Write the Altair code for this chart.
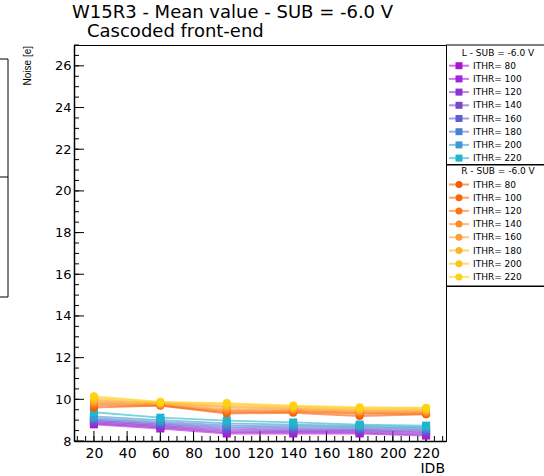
import altair as alt
import pandas as pd

# ---------------- data ----------------
IDB = [20, 60, 100, 140, 180, 220]
ITHR = [80, 100, 120, 140, 160, 180, 200, 220]

L_NOISE = {
    80:  [8.80, 8.60, 8.36, 8.36, 8.36, 8.26],
    100: [8.85, 8.67, 8.43, 8.42, 8.41, 8.32],
    120: [8.90, 8.72, 8.50, 8.48, 8.47, 8.39],
    140: [8.96, 8.78, 8.58, 8.55, 8.52, 8.45],
    160: [9.02, 8.85, 8.67, 8.62, 8.58, 8.52],
    180: [9.10, 8.92, 8.75, 8.70, 8.65, 8.59],
    200: [9.18, 9.00, 8.85, 8.78, 8.72, 8.66],
    220: [9.38, 9.12, 8.98, 8.89, 8.79, 8.74],
}
R_NOISE = {
    80:  [9.60, 9.70, 9.32, 9.35, 9.20, 9.28],
    100: [9.70, 9.70, 9.38, 9.40, 9.30, 9.30],
    120: [9.78, 9.72, 9.45, 9.45, 9.35, 9.35],
    140: [9.85, 9.76, 9.52, 9.50, 9.40, 9.40],
    160: [9.92, 9.80, 9.62, 9.55, 9.45, 9.45],
    180: [9.98, 9.82, 9.68, 9.60, 9.50, 9.50],
    200: [10.07, 9.85, 9.77, 9.66, 9.56, 9.56],
    220: [10.15, 9.88, 9.82, 9.70, 9.62, 9.60],
}
L_ERR = [0.10, 0.10, 0.10, 0.10, 0.10, 0.10]
R_ERR = [0.13, 0.13, 0.13, 0.13, 0.13, 0.13]

L_COLORS = ["#b012d2", "#a224d8", "#8c34d2", "#7848cc", "#5f5fd0", "#4a80d2", "#3a9ad0", "#20b6cf"]
R_COLORS = ["#f75a05", "#fb6508", "#fd7512", "#fd8a22", "#fea030", "#feb22a", "#ffc21a", "#ffd210"]

TITLE_1 = "W15R3 - Mean value - SUB = -6.0 V"
TITLE_2 = "Cascoded front-end"
Y_TITLE = "Noise [e]"
X_TITLE = "IDB"
L_HEADER = "L - SUB = -6.0 V"
R_HEADER = "R - SUB = -6.0 V"

X_MAJOR = [20, 40, 60, 80, 100, 120, 140, 160, 180, 200, 220]
X_MINOR = list(range(10, 231, 5))
Y_MAJOR = [8, 10, 12, 14, 16, 18, 20, 22, 24, 26]
Y_MINOR = [8 + 0.5 * i for i in range(1, 39)]

# ---------------- tables ----------------
def build(side, noise, err):
    rows = []
    for ithr in ITHR:
        for i, x in enumerate(IDB):
            v = noise[ithr][i]
            rows.append({"series": f"{side}{ithr}", "ithr": ithr, "idb": x,
                         "noise": v, "lo": v - err[i], "hi": v + err[i]})
    return pd.DataFrame(rows)

dfL = build("L", L_NOISE, L_ERR)
dfR = build("R", R_NOISE, R_ERR)

series_dom = [f"L{t}" for t in ITHR] + [f"R{t}" for t in ITHR]
cscale = alt.Scale(domain=series_dom, range=L_COLORS + R_COLORS)
color = alt.Color("series:N", scale=cscale, legend=None)

xs = alt.Scale(domain=[8, 232], nice=False, zero=False)
ys = alt.Scale(domain=[8, 27], nice=False, zero=False)

x_axis = alt.Axis(values=X_MAJOR, ticks=False, tickSize=0, grid=False, title=None,
                  labelFont="DejaVu Sans", labelFontSize=14, labelColor="black",
                  labelPadding=5, labelOverlap=False, labelFlush=False,
                  domainColor="black", domainWidth=1.5)
y_axis = alt.Axis(values=Y_MAJOR, ticks=False, tickSize=0, grid=False, title=None,
                  labelFont="DejaVu Sans", labelFontSize=13, labelColor="black",
                  labelPadding=3, labelOverlap=False, labelFlush=False,
                  domainColor="black", domainWidth=1.5)

X = alt.X("idb:Q", scale=xs, axis=x_axis)
Y = alt.Y("noise:Q", scale=ys, axis=y_axis)

# axis ticks drawn inside the frame (ROOT style)
ytM = alt.Chart(pd.DataFrame({"v": Y_MAJOR})).mark_rule(color="black").encode(
    y=alt.Y("v:Q", scale=ys, axis=y_axis), x=alt.value(0), x2=alt.value(10))
ytm = alt.Chart(pd.DataFrame({"v": Y_MINOR})).mark_rule(color="black").encode(
    y=alt.Y("v:Q", scale=ys, axis=y_axis), x=alt.value(0), x2=alt.value(5))
xtM = alt.Chart(pd.DataFrame({"v": X_MAJOR})).mark_rule(color="black").encode(
    x=alt.X("v:Q", scale=xs, axis=x_axis), y=alt.value(396), y2=alt.value(386))
xtm = alt.Chart(pd.DataFrame({"v": X_MINOR})).mark_rule(color="black").encode(
    x=alt.X("v:Q", scale=xs, axis=x_axis), y=alt.value(396), y2=alt.value(391))

def side_layers(df, shape):
    line = alt.Chart(df).mark_line(strokeWidth=1.8, opacity=0.6).encode(x=X, y=Y, color=color)
    err = alt.Chart(df).mark_rule(strokeWidth=2).encode(
        x=X, y=alt.Y("lo:Q", scale=ys, axis=y_axis), y2="hi:Q", color=color)
    pts = alt.Chart(df).mark_point(shape=shape, filled=True, size=64, opacity=1).encode(
        x=X, y=Y, color=color)
    return [line, err, pts]

main = alt.layer(ytM, ytm, xtM, xtm, *side_layers(dfL, "square"), *side_layers(dfR, "circle"))

# ---------------- legend (ROOT TLegend look) ----------------
rs = alt.Scale(domain=[0, 17], range=[7.5, 231.9], nice=False, zero=False)
RY = alt.Y("row:Q", scale=rs, axis=None)

legL = pd.DataFrame({"series": [f"L{t}" for t in ITHR], "row": list(range(1, 9)),
                     "label": [f"ITHR= {t}" for t in ITHR]})
legR = pd.DataFrame({"series": [f"R{t}" for t in ITHR], "row": list(range(10, 18)),
                     "label": [f"ITHR= {t}" for t in ITHR]})
legAll = pd.concat([legL, legR])
heads = pd.DataFrame({"row": [0, 9], "label": [L_HEADER, R_HEADER]})
boxes = pd.DataFrame({"row": [8.5, 17.7]})

lg_line = alt.Chart(legAll).mark_rule(strokeWidth=2, opacity=0.6).encode(
    y=RY, x=alt.value(375), x2=alt.value(395), color=color)
lg_sq = alt.Chart(legL).mark_point(shape="square", filled=True, size=49, opacity=1).encode(
    y=RY, x=alt.value(385), color=color)
lg_ci = alt.Chart(legR).mark_point(shape="circle", filled=True, size=49, opacity=1).encode(
    y=RY, x=alt.value(385), color=color)
lg_tx = alt.Chart(legAll).mark_text(align="left", baseline="middle", font="DejaVu Sans",
                                    fontSize=9, color="black").encode(
    y=RY, x=alt.value(399), text="label:N")
lg_hd = alt.Chart(heads).mark_text(align="center", baseline="middle", font="DejaVu Sans",
                                   fontSize=9, color="black").encode(
    y=RY, x=alt.value(424), text="label:N")
lg_box = alt.Chart(boxes).mark_rule(color="black", strokeWidth=1.5).encode(
    y=RY, x=alt.value(372), x2=alt.value(472))
lg_top = alt.Chart(pd.DataFrame({"a": [0]})).mark_rule(color="black").encode(
    y=alt.value(0), x=alt.value(372), x2=alt.value(472))

# partial legend box cut at the left edge
one = pd.DataFrame({"a": [0]})
lb1 = alt.Chart(one).mark_rule(color="black").encode(y=alt.value(14), x=alt.value(-76), x2=alt.value(-66))
lb2 = alt.Chart(one).mark_rule(color="black").encode(y=alt.value(132), x=alt.value(-76), x2=alt.value(-66))
lb3 = alt.Chart(one).mark_rule(color="black").encode(y=alt.value(252), x=alt.value(-76), x2=alt.value(-66))
lb4 = alt.Chart(one).mark_rule(color="black").encode(x=alt.value(-66), y=alt.value(14), y2=alt.value(252))

# titles
t1 = alt.Chart(pd.DataFrame({"t": [TITLE_1]})).mark_text(
    align="left", baseline="alphabetic", font="DejaVu Sans", fontSize=18, color="black").encode(
    text="t:N", x=alt.value(-2), y=alt.value(-27))
t2 = alt.Chart(pd.DataFrame({"t": [TITLE_2]})).mark_text(
    align="left", baseline="alphabetic", font="DejaVu Sans", fontSize=18, color="black").encode(
    text="t:N", x=alt.value(13), y=alt.value(-8))
ty = alt.Chart(pd.DataFrame({"t": [Y_TITLE]})).mark_text(
    align="right", baseline="bottom", angle=270, font="Liberation Sans", fontSize=10,
    color="black").encode(text="t:N", x=alt.value(-41), y=alt.value(1))
tx = alt.Chart(pd.DataFrame({"t": [X_TITLE]})).mark_text(
    align="right", baseline="alphabetic", font="DejaVu Sans", fontSize=14, color="black").encode(
    text="t:N", x=alt.value(371), y=alt.value(428))

legend = alt.layer(lg_top, lg_box, lg_line, lg_sq, lg_ci, lg_tx, lg_hd,
                   lb1, lb2, lb3, lb4, t1, t2, ty, tx)

chart = alt.layer(main, legend).resolve_scale(y="independent").properties(
    width=372, height=396,
    autosize=alt.AutoSizeParams(type="none"),
    padding={"left": 74, "top": 45, "right": 98, "bottom": 35},
    background="white",
).configure_view(stroke="black", strokeWidth=1)

chart.save("out.html", embed_options={"renderer": "svg", "actions": False})
